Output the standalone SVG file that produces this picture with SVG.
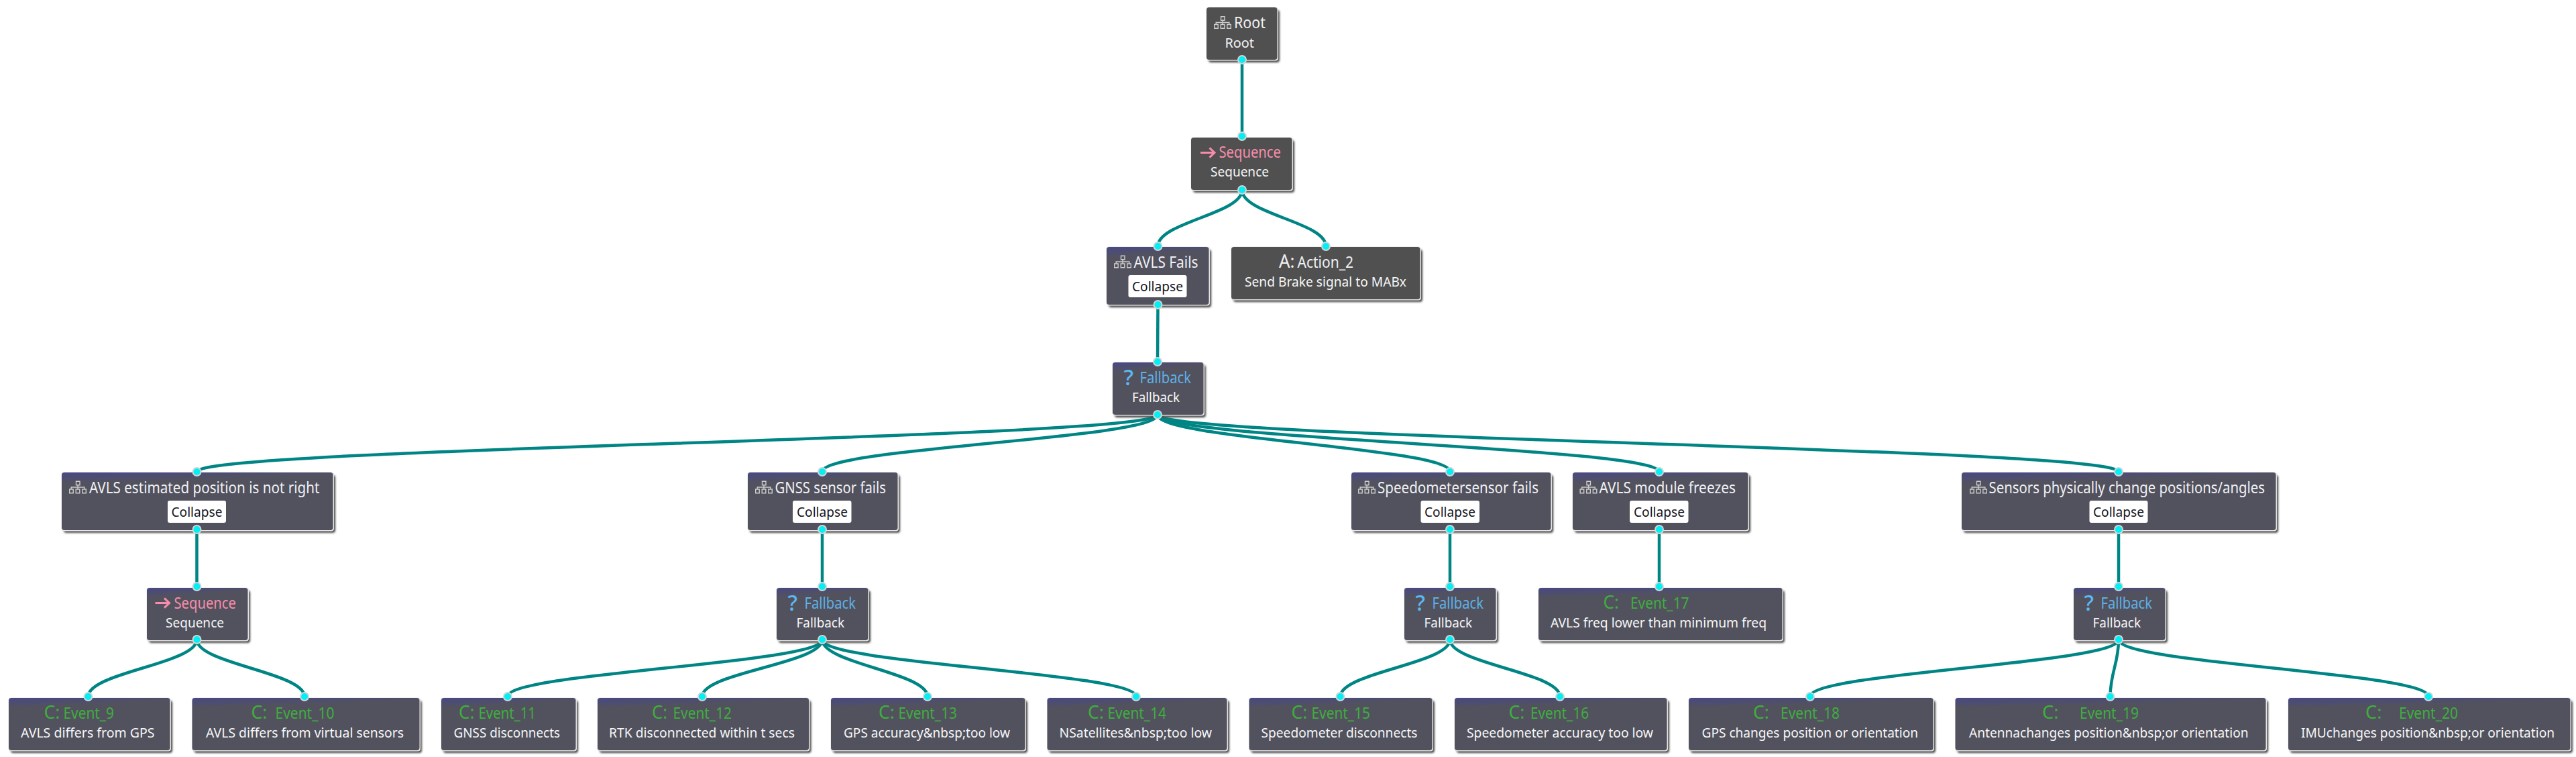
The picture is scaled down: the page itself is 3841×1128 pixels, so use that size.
<svg xmlns="http://www.w3.org/2000/svg" width="3841" height="1128" viewBox="0 0 3841 1128">
<style>
text{font-family:"Noto Sans","Open Sans",sans-serif;}
.sh{fill:#4a4a4a;filter:url(#blur);}
.ed{fill:#e6e6e6;}
.n{fill:url(#nodeGrad);}
.d{fill:#505050;}
.t{font-size:24px;fill:#f0f0f4;}
.s{font-size:19px;fill:#f6f6f6;}
.k{font-size:19px;fill:#14141c;}
.b{fill:#ffffff;}
.big{font-size:28px;fill:#f0f0f0;}
.gc{font-size:28px;fill:#3fae3f;}
.g{font-size:24px;fill:#3fae3f;}
.f{font-size:24px;fill:#5eb0e8;}
.q{font-size:33px;fill:#5cb8f2;font-weight:500;}
.p{font-size:24px;fill:#f78cab;}
.arw{fill:none;stroke:#f78cab;stroke-width:3;}
.ic{fill:none;stroke:#cccccc;stroke-width:1.4;}
.dot{fill:#00f0f5;stroke:#d4d4d4;stroke-width:2;}
.cn{fill:none;stroke:#008585;stroke-width:4.500;}
</style>
<defs>
<filter id="blur" x="-5%" y="-10%" width="110%" height="125%"><feGaussianBlur stdDeviation="1.4"/></filter>
<linearGradient id="nodeGrad" x1="0.45" y1="-0.02" x2="0.47" y2="0.13"><stop offset="0" stop-color="#4a4a7e"/><stop offset="1" stop-color="#52525e"/></linearGradient>
<symbol id="tree" width="26" height="19" viewBox="0 0 26 19" overflow="visible"><path class="ic" d="M10.5 .7h5.5v5.5h-5.5zM13 6.2v3.3M3.2 12.5v-3h19.6v3M13 9.5v3M.7 12.5h5.5v5.7H.7zM10.2 12.5h5.6v5.7h-5.6zM19.8 12.5h5.5v5.7h-5.5z"/></symbol>
<symbol id="arrow" width="23" height="16" viewBox="0 0 23 16" overflow="visible"><path class="arw" d="M0 8H21M13.5 .8L21 8L13.5 15.2"/></symbol>
</defs>
<g id="connectors">
<path class="cn" d="M1852 89V203"/>
<path class="cn" d="M1852 283C1852 319 1726.5 331 1726.5 367"/>
<path class="cn" d="M1852 283C1852 319 1977 331 1977 367"/>
<path class="cn" d="M1726.500 454L1726 539"/>
<path class="cn" d="M1726 618C1726 654 293.500 667 293.500 703"/>
<path class="cn" d="M1726 618C1726 654 1226 667 1226 703"/>
<path class="cn" d="M1726 618C1726 654 2162 667 2162 703"/>
<path class="cn" d="M1726 618C1726 654 2474 667 2474 703"/>
<path class="cn" d="M1726 618C1726 654 3159 667 3159 703"/>
<path class="cn" d="M293.500 789V874"/>
<path class="cn" d="M293.500 953C293.500 989 131.500 1002 131.500 1038"/>
<path class="cn" d="M293.500 953C293.500 989 454 1002 454 1038"/>
<path class="cn" d="M1226 789V874"/>
<path class="cn" d="M1226 953C1226 989 757 1002 757 1038"/>
<path class="cn" d="M1226 953C1226 989 1047 1002 1047 1038"/>
<path class="cn" d="M1226 953C1226 989 1383 1002 1383 1038"/>
<path class="cn" d="M1226 953C1226 989 1694 1002 1694 1038"/>
<path class="cn" d="M2162 789V874"/>
<path class="cn" d="M2162 953C2162 989 1998.500 1002 1998.500 1038"/>
<path class="cn" d="M2162 953C2162 989 2326 1002 2326 1038"/>
<path class="cn" d="M2474 789V874"/>
<path class="cn" d="M3159 789V874"/>
<path class="cn" d="M3159 953C3159 989 2699 1002 2699 1038"/>
<path class="cn" d="M3159 953C3159 989 3146.500 1002 3146.500 1038"/>
<path class="cn" d="M3159 953C3159 989 3621 1002 3621 1038"/>
</g>
<g id="node-root"><rect class="sh" x="1802" y="15" width="106" height="78" rx="4"/><rect class="ed" x="1798.500" y="10.500" width="107.500" height="80" rx="4"/><rect class="d" x="1799" y="11" width="105.500" height="78" rx="4"/><use href="#tree" x="1810" y="24"/><text class="t" x="1840" y="41.500" textLength="47" lengthAdjust="spacingAndGlyphs">Root</text><text class="s" x="1826.500" y="70.500" textLength="43.500" lengthAdjust="spacingAndGlyphs">Root</text><circle class="dot" cx="1852" cy="89" r="6"/></g>
<g id="node-sequence-top"><rect class="sh" x="1779" y="209" width="151" height="78" rx="4"/><rect class="ed" x="1775.500" y="204.500" width="152.500" height="80" rx="4"/><rect class="d" x="1776" y="205" width="150.500" height="78" rx="4"/><use href="#arrow" x="1790" y="219.500"/><text class="p" x="1817.500" y="235" textLength="92.500" lengthAdjust="spacingAndGlyphs">Sequence</text><text class="s" x="1805" y="263" textLength="87" lengthAdjust="spacingAndGlyphs">Sequence</text><circle class="dot" cx="1852" cy="203" r="6"/><circle class="dot" cx="1852" cy="283" r="6"/></g>
<g id="node-avls-fails"><rect class="sh" x="1653" y="372" width="153" height="86" rx="4"/><rect class="ed" x="1649.500" y="367.500" width="154.500" height="88" rx="4"/><rect class="n" x="1650" y="368" width="152.500" height="86" rx="4"/><use href="#tree" x="1661" y="380.500"/><text class="t" x="1690.500" y="399" textLength="96" lengthAdjust="spacingAndGlyphs">AVLS Fails</text><rect class="b" x="1682.500" y="410" width="87" height="33" rx="3"/><text class="k" x="1688" y="434" textLength="76" lengthAdjust="spacingAndGlyphs">Collapse</text><circle class="dot" cx="1726.500" cy="367" r="6"/><circle class="dot" cx="1726.500" cy="454" r="6"/></g>
<g id="node-action-2"><rect class="sh" x="1839" y="372" width="282" height="78" rx="4"/><rect class="ed" x="1835.500" y="367.500" width="283.500" height="80" rx="4"/><rect class="d" x="1836" y="368" width="281.500" height="78" rx="4"/><text class="big" x="1907" y="399" textLength="23.500" lengthAdjust="spacingAndGlyphs">A:</text><text class="t" x="1934.500" y="399" textLength="83.500" lengthAdjust="spacingAndGlyphs">Action_2</text><text class="s" x="1856" y="426.700" textLength="241" lengthAdjust="spacingAndGlyphs">Send Brake signal to MABx</text><circle class="dot" cx="1977" cy="367" r="6"/></g>
<g id="node-fallback-top"><rect class="sh" x="1662" y="544" width="136" height="78" rx="4"/><rect class="ed" x="1658.500" y="539.500" width="137.500" height="80" rx="4"/><rect class="n" x="1659" y="540" width="135.500" height="78" rx="4"/><text class="q" x="1675.500" y="574" textLength="14.500" lengthAdjust="spacingAndGlyphs">?</text><text class="f" x="1699.500" y="570.700" textLength="76.500" lengthAdjust="spacingAndGlyphs">Fallback</text><text class="s" x="1688" y="598.700" textLength="71" lengthAdjust="spacingAndGlyphs">Fallback</text><circle class="dot" cx="1726" cy="539" r="6"/><circle class="dot" cx="1726" cy="618" r="6"/></g>
<g id="node-avls-position"><rect class="sh" x="95" y="708" width="405" height="86" rx="4"/><rect class="ed" x="91.500" y="703.500" width="406.500" height="88" rx="4"/><rect class="n" x="92" y="704" width="404.500" height="86" rx="4"/><use href="#tree" x="103" y="716.500"/><text class="t" x="133" y="735" textLength="343.500" lengthAdjust="spacingAndGlyphs">AVLS estimated position is not right</text><rect class="b" x="250" y="746" width="87" height="33" rx="3"/><text class="k" x="255.500" y="770" textLength="76" lengthAdjust="spacingAndGlyphs">Collapse</text><circle class="dot" cx="293.500" cy="703" r="6"/><circle class="dot" cx="293.500" cy="789" r="6"/></g>
<g id="node-gnss"><rect class="sh" x="1118" y="708" width="224" height="86" rx="4"/><rect class="ed" x="1114.500" y="703.500" width="225.500" height="88" rx="4"/><rect class="n" x="1115" y="704" width="223.500" height="86" rx="4"/><use href="#tree" x="1126" y="716.500"/><text class="t" x="1155.500" y="735" textLength="165.500" lengthAdjust="spacingAndGlyphs">GNSS sensor fails</text><rect class="b" x="1182" y="746" width="87.500" height="33" rx="3"/><text class="k" x="1188" y="770" textLength="76" lengthAdjust="spacingAndGlyphs">Collapse</text><circle class="dot" cx="1226" cy="703" r="6"/><circle class="dot" cx="1226" cy="789" r="6"/></g>
<g id="node-speedometer"><rect class="sh" x="2018" y="708" width="298" height="86" rx="4"/><rect class="ed" x="2014.500" y="703.500" width="299.500" height="88" rx="4"/><rect class="n" x="2015" y="704" width="297.500" height="86" rx="4"/><use href="#tree" x="2025" y="716.500"/><text class="t" x="2054" y="735" textLength="240" lengthAdjust="spacingAndGlyphs">Speedometersensor fails</text><rect class="b" x="2118.500" y="746" width="87.500" height="33" rx="3"/><text class="k" x="2124" y="770" textLength="76" lengthAdjust="spacingAndGlyphs">Collapse</text><circle class="dot" cx="2162" cy="703" r="6"/><circle class="dot" cx="2162" cy="789" r="6"/></g>
<g id="node-avls-module"><rect class="sh" x="2348" y="708" width="262" height="86" rx="4"/><rect class="ed" x="2344.500" y="703.500" width="263.500" height="88" rx="4"/><rect class="n" x="2345" y="704" width="261.500" height="86" rx="4"/><use href="#tree" x="2355.500" y="716.500"/><text class="t" x="2384.500" y="735" textLength="203.500" lengthAdjust="spacingAndGlyphs">AVLS module freezes</text><rect class="b" x="2430" y="746" width="87.500" height="33" rx="3"/><text class="k" x="2436" y="770" textLength="76" lengthAdjust="spacingAndGlyphs">Collapse</text><circle class="dot" cx="2474" cy="703" r="6"/><circle class="dot" cx="2474" cy="789" r="6"/></g>
<g id="node-sensors"><rect class="sh" x="2928" y="708" width="469" height="86" rx="4"/><rect class="ed" x="2924.500" y="703.500" width="470.500" height="88" rx="4"/><rect class="n" x="2925" y="704" width="468.500" height="86" rx="4"/><use href="#tree" x="2937" y="716.500"/><text class="t" x="2965.500" y="735" textLength="411.500" lengthAdjust="spacingAndGlyphs">Sensors physically change positions/angles</text><rect class="b" x="3115.500" y="746" width="87" height="33" rx="3"/><text class="k" x="3121" y="770" textLength="76" lengthAdjust="spacingAndGlyphs">Collapse</text><circle class="dot" cx="3159" cy="703" r="6"/><circle class="dot" cx="3159" cy="789" r="6"/></g>
<g id="node-sequence-left"><rect class="sh" x="222" y="880" width="151" height="78" rx="4"/><rect class="ed" x="218.500" y="875.500" width="152.500" height="80" rx="4"/><rect class="n" x="219" y="876" width="150.500" height="78" rx="4"/><use href="#arrow" x="231.500" y="890.500"/><text class="p" x="259.500" y="906.700" textLength="92.500" lengthAdjust="spacingAndGlyphs">Sequence</text><text class="s" x="247" y="934.700" textLength="87" lengthAdjust="spacingAndGlyphs">Sequence</text><circle class="dot" cx="293.500" cy="874" r="6"/><circle class="dot" cx="293.500" cy="953" r="6"/></g>
<g id="node-fallback-gnss"><rect class="sh" x="1161" y="880" width="137" height="78" rx="4"/><rect class="ed" x="1157.500" y="875.500" width="138.500" height="80" rx="4"/><rect class="n" x="1158" y="876" width="136.500" height="78" rx="4"/><text class="q" x="1174.500" y="910" textLength="14.500" lengthAdjust="spacingAndGlyphs">?</text><text class="f" x="1199.500" y="906.700" textLength="76.500" lengthAdjust="spacingAndGlyphs">Fallback</text><text class="s" x="1187.500" y="934.700" textLength="71.500" lengthAdjust="spacingAndGlyphs">Fallback</text><circle class="dot" cx="1226" cy="874" r="6"/><circle class="dot" cx="1226" cy="953" r="6"/></g>
<g id="node-fallback-speed"><rect class="sh" x="2097" y="880" width="137" height="78" rx="4"/><rect class="ed" x="2093.500" y="875.500" width="138.500" height="80" rx="4"/><rect class="n" x="2094" y="876" width="136.500" height="78" rx="4"/><text class="q" x="2110.500" y="910" textLength="14.500" lengthAdjust="spacingAndGlyphs">?</text><text class="f" x="2135.500" y="906.700" textLength="76.500" lengthAdjust="spacingAndGlyphs">Fallback</text><text class="s" x="2123.500" y="934.700" textLength="71.500" lengthAdjust="spacingAndGlyphs">Fallback</text><circle class="dot" cx="2162" cy="874" r="6"/><circle class="dot" cx="2162" cy="953" r="6"/></g>
<g id="node-event-17"><rect class="sh" x="2297" y="880" width="364" height="78" rx="4"/><rect class="ed" x="2293.500" y="875.500" width="365.500" height="80" rx="4"/><rect class="n" x="2294" y="876" width="363.500" height="78" rx="4"/><text class="gc" x="2390.500" y="906.700" textLength="23.500" lengthAdjust="spacingAndGlyphs">C:</text><text class="g" x="2431" y="906.700" textLength="87.500" lengthAdjust="spacingAndGlyphs">Event_17</text><text class="s" x="2312" y="934.700" textLength="322" lengthAdjust="spacingAndGlyphs">AVLS freq lower than minimum freq</text><circle class="dot" cx="2474" cy="874" r="6"/></g>
<g id="node-fallback-sensors"><rect class="sh" x="3095" y="880" width="137" height="78" rx="4"/><rect class="ed" x="3091.500" y="875.500" width="138.500" height="80" rx="4"/><rect class="n" x="3092" y="876" width="136.500" height="78" rx="4"/><text class="q" x="3107.500" y="910" textLength="14.500" lengthAdjust="spacingAndGlyphs">?</text><text class="f" x="3132.500" y="906.700" textLength="76.500" lengthAdjust="spacingAndGlyphs">Fallback</text><text class="s" x="3120.500" y="934.700" textLength="71.500" lengthAdjust="spacingAndGlyphs">Fallback</text><circle class="dot" cx="3159" cy="874" r="6"/><circle class="dot" cx="3159" cy="953" r="6"/></g>
<g id="node-event-9"><rect class="sh" x="16" y="1044" width="241" height="78" rx="4"/><rect class="ed" x="12.500" y="1039.500" width="242.500" height="80" rx="4"/><rect class="n" x="13" y="1040" width="240.500" height="78" rx="4"/><text class="gc" x="65.500" y="1070.700" textLength="24" lengthAdjust="spacingAndGlyphs">C:</text><text class="g" x="94.500" y="1070.700" textLength="75.500" lengthAdjust="spacingAndGlyphs">Event_9</text><text class="s" x="31" y="1098.700" textLength="199.500" lengthAdjust="spacingAndGlyphs">AVLS differs from GPS</text><circle class="dot" cx="131.500" cy="1038" r="6"/></g>
<g id="node-event-10"><rect class="sh" x="289.500" y="1044" width="339.500" height="78" rx="4"/><rect class="ed" x="286" y="1039.500" width="341" height="80" rx="4"/><rect class="n" x="286.500" y="1040" width="339" height="78" rx="4"/><text class="gc" x="374.500" y="1070.700" textLength="24" lengthAdjust="spacingAndGlyphs">C:</text><text class="g" x="410.500" y="1070.700" textLength="88" lengthAdjust="spacingAndGlyphs">Event_10</text><text class="s" x="307" y="1098.700" textLength="295" lengthAdjust="spacingAndGlyphs">AVLS differs from virtual sensors</text><circle class="dot" cx="454" cy="1038" r="6"/></g>
<g id="node-event-11"><rect class="sh" x="661" y="1044" width="201" height="78" rx="4"/><rect class="ed" x="657.500" y="1039.500" width="202.500" height="80" rx="4"/><rect class="n" x="658" y="1040" width="200.500" height="78" rx="4"/><text class="gc" x="684" y="1070.700" textLength="23.500" lengthAdjust="spacingAndGlyphs">C:</text><text class="g" x="713.500" y="1070.700" textLength="85.500" lengthAdjust="spacingAndGlyphs">Event_11</text><text class="s" x="676.500" y="1098.700" textLength="158.500" lengthAdjust="spacingAndGlyphs">GNSS disconnects</text><circle class="dot" cx="757" cy="1038" r="6"/></g>
<g id="node-event-12"><rect class="sh" x="894" y="1044" width="315.500" height="78" rx="4"/><rect class="ed" x="890.500" y="1039.500" width="317" height="80" rx="4"/><rect class="n" x="891" y="1040" width="315" height="78" rx="4"/><text class="gc" x="972" y="1070.700" textLength="23" lengthAdjust="spacingAndGlyphs">C:</text><text class="g" x="1003.500" y="1070.700" textLength="87.500" lengthAdjust="spacingAndGlyphs">Event_12</text><text class="s" x="908" y="1098.700" textLength="277" lengthAdjust="spacingAndGlyphs">RTK disconnected within t secs</text><circle class="dot" cx="1047" cy="1038" r="6"/></g>
<g id="node-event-13"><rect class="sh" x="1242" y="1044" width="290" height="78" rx="4"/><rect class="ed" x="1238.500" y="1039.500" width="291.500" height="80" rx="4"/><rect class="n" x="1239" y="1040" width="289.500" height="78" rx="4"/><text class="gc" x="1310" y="1070.700" textLength="24" lengthAdjust="spacingAndGlyphs">C:</text><text class="g" x="1339.500" y="1070.700" textLength="87.500" lengthAdjust="spacingAndGlyphs">Event_13</text><text class="s" x="1258" y="1098.700" textLength="248" lengthAdjust="spacingAndGlyphs">GPS accuracy&amp;nbsp;too low</text><circle class="dot" cx="1383" cy="1038" r="6"/></g>
<g id="node-event-14"><rect class="sh" x="1564.500" y="1044" width="268.500" height="78" rx="4"/><rect class="ed" x="1561" y="1039.500" width="270" height="80" rx="4"/><rect class="n" x="1561.500" y="1040" width="268" height="78" rx="4"/><text class="gc" x="1622" y="1070.700" textLength="24" lengthAdjust="spacingAndGlyphs">C:</text><text class="g" x="1651.500" y="1070.700" textLength="87.500" lengthAdjust="spacingAndGlyphs">Event_14</text><text class="s" x="1579.500" y="1098.700" textLength="227.500" lengthAdjust="spacingAndGlyphs">NSatellites&amp;nbsp;too low</text><circle class="dot" cx="1694" cy="1038" r="6"/></g>
<g id="node-event-15"><rect class="sh" x="1865.500" y="1044" width="273.500" height="78" rx="4"/><rect class="ed" x="1862" y="1039.500" width="275" height="80" rx="4"/><rect class="n" x="1862.500" y="1040" width="273" height="78" rx="4"/><text class="gc" x="1925.500" y="1070.700" textLength="24" lengthAdjust="spacingAndGlyphs">C:</text><text class="g" x="1955.500" y="1070.700" textLength="87.500" lengthAdjust="spacingAndGlyphs">Event_15</text><text class="s" x="1880.500" y="1098.700" textLength="233" lengthAdjust="spacingAndGlyphs">Speedometer disconnects</text><circle class="dot" cx="1998.500" cy="1038" r="6"/></g>
<g id="node-event-16"><rect class="sh" x="2172" y="1044" width="317" height="78" rx="4"/><rect class="ed" x="2168.500" y="1039.500" width="318.500" height="80" rx="4"/><rect class="n" x="2169" y="1040" width="316.500" height="78" rx="4"/><text class="gc" x="2249.500" y="1070.700" textLength="24" lengthAdjust="spacingAndGlyphs">C:</text><text class="g" x="2282" y="1070.700" textLength="87" lengthAdjust="spacingAndGlyphs">Event_16</text><text class="s" x="2187" y="1098.700" textLength="278" lengthAdjust="spacingAndGlyphs">Speedometer accuracy too low</text><circle class="dot" cx="2326" cy="1038" r="6"/></g>
<g id="node-event-18"><rect class="sh" x="2521" y="1044" width="365" height="78" rx="4"/><rect class="ed" x="2517.500" y="1039.500" width="366.500" height="80" rx="4"/><rect class="n" x="2518" y="1040" width="364.500" height="78" rx="4"/><text class="gc" x="2614" y="1070.700" textLength="24" lengthAdjust="spacingAndGlyphs">C:</text><text class="g" x="2655" y="1070.700" textLength="88" lengthAdjust="spacingAndGlyphs">Event_18</text><text class="s" x="2537.500" y="1098.700" textLength="322.500" lengthAdjust="spacingAndGlyphs">GPS changes position or orientation</text><circle class="dot" cx="2699" cy="1038" r="6"/></g>
<g id="node-event-19"><rect class="sh" x="2918.500" y="1044" width="463.500" height="78" rx="4"/><rect class="ed" x="2915" y="1039.500" width="465" height="80" rx="4"/><rect class="n" x="2915.500" y="1040" width="463" height="78" rx="4"/><text class="gc" x="3045" y="1070.700" textLength="24.500" lengthAdjust="spacingAndGlyphs">C:</text><text class="g" x="3101" y="1070.700" textLength="88" lengthAdjust="spacingAndGlyphs">Event_19</text><text class="s" x="2936" y="1098.700" textLength="416.500" lengthAdjust="spacingAndGlyphs">Antennachanges position&amp;nbsp;or orientation</text><circle class="dot" cx="3146.500" cy="1038" r="6"/></g>
<g id="node-event-20"><rect class="sh" x="3415" y="1044" width="421" height="78" rx="4"/><rect class="ed" x="3411.500" y="1039.500" width="422.500" height="80" rx="4"/><rect class="n" x="3412" y="1040" width="420.500" height="78" rx="4"/><text class="gc" x="3527" y="1070.700" textLength="24.500" lengthAdjust="spacingAndGlyphs">C:</text><text class="g" x="3577" y="1070.700" textLength="88" lengthAdjust="spacingAndGlyphs">Event_20</text><text class="s" x="3431" y="1098.700" textLength="378" lengthAdjust="spacingAndGlyphs">IMUchanges position&amp;nbsp;or orientation</text><circle class="dot" cx="3621" cy="1038" r="6"/></g>
</svg>
